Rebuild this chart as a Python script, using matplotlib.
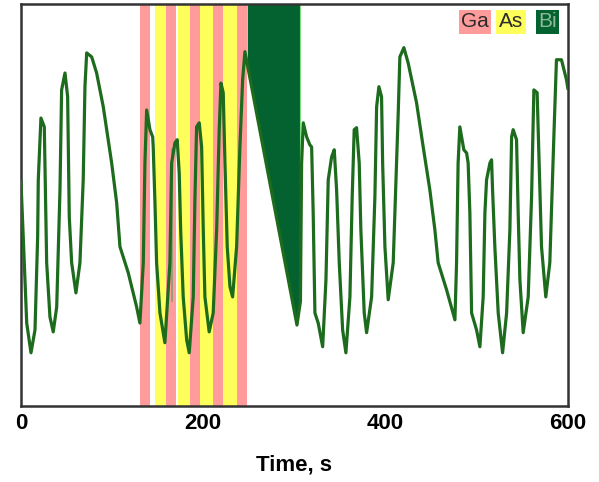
import numpy as np
import matplotlib
matplotlib.use('Agg')
import matplotlib.pyplot as plt

plt.rcParams['font.family'] = ['Liberation Sans', 'DejaVu Sans']

# signal trace (time in s, signal in arbitrary units 0..100)
time = [0, 6.3, 11, 15.4, 18.3, 19.0, 21.9, 25.6, 27.1, 28.2, 31.8, 35.4,
        39.2, 42.8, 44.6, 48.3, 51.2, 53.0, 55.6, 60.3, 64.7, 68.3, 70.2, 72.1,
        77.6, 83.0, 90.3, 99.5, 105, 108.6, 117.7, 126.9, 130.5,
        134.2, 136.0, 137.9, 141.5, 144.5, 145.1, 147.0, 148.8, 152.5, 157.9,
        163.4, 165.3, 168.9, 171.4, 173.6, 175.2, 178.0, 181.8, 184.6,
        189.0, 190.9, 192.7, 195.6, 198.2, 200.0, 201.8, 206.5,
        210.9, 214.7, 217.5, 219.4, 221.9, 223.8, 226.3, 229.3, 232.2,
        236.6, 240.2, 243.2, 245.7, 302.8, 306.6, 307.9, 309.7, 313.4, 317.0,
        318.9, 320.6, 322.5, 326.1, 331.0, 334.6, 337.1, 340.8, 343.7, 346.3,
        349.2, 352.9, 356.5, 360.9, 363.4, 365.6, 368.2, 371.1, 372.9, 376.6,
        379.2, 384.7, 388.3, 390.2, 392.7, 395.6, 396.8, 399.3, 402.9,
        408.4, 412.1, 413.9, 415.7, 420.1, 424.8, 434.0, 441.3, 448.6, 454.1,
        457.7, 466.9, 476.1, 477.9, 479.6, 481.5, 485.9, 488.9, 490.6, 492.5,
        494.4, 499.8, 503.5, 507.1, 509.0, 510.8, 514.5, 516.3, 517.4, 519.9,
        523.6, 528.4, 532.8, 536.4, 538.3, 540.0, 543.7, 545.5, 547.4, 551.0,
        556.5, 560.2, 562.7, 566.3, 568.5, 571.1, 575.8, 580.2, 584.9, 587.5,
        593.0, 598.5, 600]
signal = [56, 20.6, 13.2, 18.9, 42.0, 56.2, 71.6, 69.4, 50.5, 35.6, 22.1, 18.4,
          24.6, 53.7, 78.6, 82.8, 76.9, 47.0, 35.6, 28.1, 35.6, 56.2, 79.4, 87.8,
          86.8, 82.8, 74.4, 60.4, 50.5, 39.6, 33.1, 24.6, 20.6,
          35.6, 60.4, 73.6, 68.7, 66.9, 64.4, 50.5, 35.6, 23.1, 15.7,
          35.6, 60.4, 65.4, 66.2, 58.0, 43.8, 27.1, 16.4, 13.2,
          27.1, 52.0, 69.4, 70.4, 64.4, 43.8, 27.1, 18.4,
          23.1, 43.8, 68.7, 80.3, 77.9, 60.4, 39.6, 29.6, 27.1,
          39.6, 64.4, 81.1, 88.1, 20.1, 26.0, 60.4, 70.4, 66.9, 64.9,
          64.4, 48.0, 23.1, 20.6, 14.7, 31.3, 56.2, 61.9, 63.7, 53.7,
          35.6, 18.9, 13.2, 27.1, 52.0, 68.7, 69.2, 60.4, 43.8, 23.1,
          18.2, 27.1, 52.0, 74.4, 79.4, 76.9, 60.4, 39.6, 26.4,
          35.6, 60.4, 72.9, 86.8, 89.1, 85.3, 75.4, 64.4, 53.7, 43.8,
          35.6, 28.9, 21.4, 35.6, 60.4, 69.4, 63.7, 62.9, 60.4, 48.0,
          23.1, 18.9, 14.7, 27.1, 48.0, 56.2, 60.4, 61.2, 53.7, 39.6,
          23.1, 13.2, 23.1, 43.8, 66.9, 68.7, 66.2, 48.0, 31.3, 18.2,
          27.1, 52.0, 78.6, 77.9, 60.4, 39.6, 27.1, 35.6, 68.7, 86.1,
          86.1, 81.1, 79]

# faint stray segment near 166 s
stray_t = [166.2, 166.2]
stray_y = [64.0, 26.0]

# shutter intervals (s)
ga_open = [(130.5, 141.5), (159.0, 170.0), (185.4, 196.3), (210.9, 221.3), (236.6, 248.2)]
as_open = [(147.0, 159.0), (172.5, 185.4), (196.3, 210.9), (221.3, 236.6)]
bi_open = (248.2, 306.0)

ga_color = '#ff9b9b'
as_color = '#ffff5c'
bi_color = '#03622f'
line_color = '#1d6b1d'

fig = plt.figure(figsize=(5.99, 4.82), dpi=100)
ax = fig.add_axes([0.035, 0.158, 0.913, 0.834])

for a, b in ga_open:
    ax.axvspan(a, b, color=ga_color, lw=0, zorder=1)
for a, b in as_open:
    ax.axvspan(a, b, color=as_color, lw=0, zorder=1)

ymax = 100
xs = np.linspace(bi_open[0], bi_open[1], 200)
ys = np.interp(xs, time, signal)
ax.fill_between(xs, ys, ymax, color=bi_color, lw=0, zorder=2)
ax.vlines(bi_open[1], np.interp(bi_open[1], time, signal), ymax,
          color='#7fe07f', lw=0.8, zorder=2)

ax.plot(stray_t, stray_y, color='#6a9a6a', lw=1.2, alpha=0.8, zorder=3)
ax.plot(time, signal, color=line_color, lw=2.3, zorder=4)

ax.set_xlim(0, 600)
ax.set_ylim(0, ymax)
ax.set_xticks([0, 200, 400, 600])
ax.set_xticklabels(['0', '200', '400', '600'], fontsize=16, fontweight='bold')
ax.set_yticks([])
ax.tick_params(axis='x', length=0, pad=5)
ax.set_xlabel('Time, s', fontsize=16, fontweight='bold', labelpad=15)
for s in ax.spines.values():
    s.set_color('#333333')
    s.set_linewidth(1.8)

# legend boxes
ax.text(0.830, 0.955, 'Ga', transform=ax.transAxes, ha='center', va='center',
        fontsize=15, color='#2a2a2a',
        bbox=dict(boxstyle='square,pad=0.12', fc=ga_color, ec='none'), zorder=5)
ax.text(0.896, 0.955, 'As', transform=ax.transAxes, ha='center', va='center',
        fontsize=15, color='#2a2a2a',
        bbox=dict(boxstyle='square,pad=0.12', fc=as_color, ec='none'), zorder=5)
ax.text(0.963, 0.955, 'Bi', transform=ax.transAxes, ha='center', va='center',
        fontsize=15, color='#8fb89a',
        bbox=dict(boxstyle='square,pad=0.12', fc=bi_color, ec='none'), zorder=5)

fig.savefig('out.png', dpi=100)
